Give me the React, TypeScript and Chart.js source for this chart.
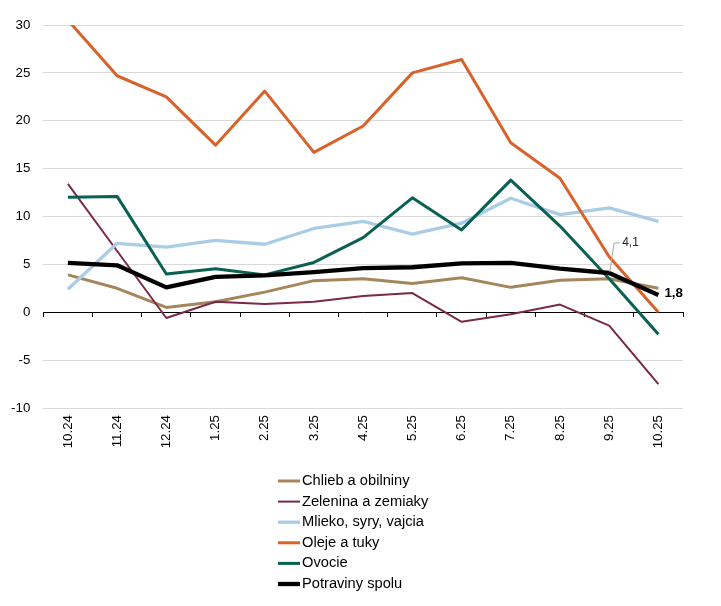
import React, { useEffect, useRef } from "react";
import { Chart, registerables } from "chart.js";

Chart.register(...registerables);

const categories = ["10.24", "11.24", "12.24", "1.25", "2.25", "3.25", "4.25", "5.25", "6.25", "7.25", "8.25", "9.25", "10.25"];

const chlieb = [3.9, 2.5, 0.5, 1.1, 2.1, 3.3, 3.5, 3.0, 3.6, 2.6, 3.35, 3.5, 2.5];
const zelenina = [13.4, 6.4, -0.6, 1.1, 0.85, 1.1, 1.7, 2.0, -1.0, -0.2, 0.8, -1.4, -7.5];
const mlieko = [2.4, 7.2, 6.8, 7.5, 7.1, 8.75, 9.5, 8.15, 9.3, 11.9, 10.2, 10.9, 9.5];
const oleje = [30.5, 24.7, 22.5, 17.45, 23.1, 16.7, 19.45, 25.0, 26.4, 17.7, 14.0, 5.8, 0.0];
const ovocie = [12.0, 12.1, 4.0, 4.55, 3.9, 5.2, 7.8, 11.95, 8.6, 13.8, 9.0, 3.5, -2.3];
const potraviny = [5.15, 4.9, 2.6, 3.7, 3.85, 4.2, 4.6, 4.7, 5.1, 5.15, 4.55, 4.1, 1.8];

const seriesNames = ["Chlieb a obilniny", "Zelenina a zemiaky", "Mlieko, syry, vajcia", "Oleje a tuky", "Ovocie", "Potraviny spolu"];
const yTicks = { min: -10, max: 30, step: 5 };

const FONT = '"Liberation Sans", Arial, sans-serif';

const fmt = (v: number) => v.toFixed(1).replace(".", ",");

const notesPlugin = {
  id: "notes",
  afterDatasetsDraw(chart: any) {
    const ctx = chart.ctx;
    const meta = chart.getDatasetMeta(5);
    const p1 = meta.data[11];
    const p2 = meta.data[12];
    ctx.save();
    ctx.strokeStyle = "#a6a6a6";
    ctx.lineWidth = 1;
    ctx.beginPath();
    ctx.moveTo(p1.x + 0.6, p1.y - 1);
    ctx.lineTo(p1.x + 4.9, p1.y - 30);
    ctx.lineTo(p1.x + 10.6, p1.y - 30);
    ctx.stroke();
    ctx.textAlign = "left";
    ctx.textBaseline = "middle";
    ctx.fillStyle = "#262626";
    ctx.font = `12px ${FONT}`;
    ctx.fillText(fmt(potraviny[11]), p1.x + 13, p1.y - 30);
    ctx.fillStyle = "#000";
    ctx.font = `bold 13.33px ${FONT}`;
    ctx.fillText(fmt(potraviny[12]), p2.x + 6, p2.y - 1.5);
    ctx.restore();
  },
};

const legendPlugin = {
  id: "colLegend",
  afterDraw(chart: any) {
    const ctx = chart.ctx;
    const x0 = chart.width / 2 - 82.5;
    const y0 = chart.chartArea.bottom + 73;
    ctx.save();
    ctx.font = `14.67px ${FONT}`;
    ctx.textAlign = "left";
    ctx.textBaseline = "middle";
    chart.data.datasets.forEach((ds: any, i: number) => {
      const y = y0 + i * 20.6;
      ctx.strokeStyle = ds.borderColor;
      ctx.lineWidth = ds.borderWidth;
      ctx.lineCap = "butt";
      ctx.beginPath();
      ctx.moveTo(x0, y);
      ctx.lineTo(x0 + 22, y);
      ctx.stroke();
      ctx.fillStyle = "#000";
      ctx.fillText(ds.label, x0 + 24, y);
    });
    ctx.restore();
  },
};

export default function App() {
  const ref = useRef<HTMLCanvasElement>(null);

  useEffect(() => {
    if (!ref.current) return;
    const mk = (label: string, data: number[], color: string, width: number, order: number) => ({
      label,
      data,
      borderColor: color,
      backgroundColor: color,
      borderWidth: width,
      pointRadius: 0,
      pointHoverRadius: 0,
      tension: 0,
      fill: false,
      order,
      borderJoinStyle: "round" as const,
    });
    const chart = new Chart(ref.current, {
      type: "line",
      data: {
        labels: categories,
        datasets: [
          mk(seriesNames[0], chlieb, "#a5855c", 3, 6),
          mk(seriesNames[1], zelenina, "#7a2a48", 2, 5),
          mk(seriesNames[2], mlieko, "#a9cde6", 3.3, 4),
          mk(seriesNames[3], oleje, "#d9622b", 3, 3),
          mk(seriesNames[4], ovocie, "#0a6152", 3, 2),
          mk(seriesNames[5], potraviny, "#000000", 4.3, 1),
        ],
      },
      options: {
        animation: false,
        responsive: true,
        maintainAspectRatio: false,
        events: [],
        layout: { padding: { top: 17, right: 30, left: 0, bottom: 120 } },
        plugins: {
          legend: { display: false },
          tooltip: { enabled: false },
        },
        scales: {
          x: {
            type: "category",
            offset: true,
            grid: { display: false, drawTicks: false },
            border: { display: false },
            ticks: {
              autoSkip: false,
              minRotation: 90,
              maxRotation: 90,
              padding: 7,
              color: "#000",
              font: { family: FONT, size: 13.33 },
            },
            afterFit: (s: any) => {
              s.height = 70;
            },
          },
          x2: {
            type: "category",
            labels: categories,
            position: { y: 0 },
            offset: true,
            grid: { offset: true, drawOnChartArea: false, drawTicks: true, tickLength: 4, color: "#000", lineWidth: 1 },
            border: { display: true, color: "#000", width: 1 },
            ticks: { display: false },
          },
          y: {
            min: yTicks.min,
            max: yTicks.max,
            ticks: {
              stepSize: yTicks.step,
              padding: 13,
              color: "#000",
              font: { family: FONT, size: 13.33 },
            },
            grid: {
              drawTicks: false,
              color: (c: any) => (c.tick && c.tick.value === 0 ? "rgba(0,0,0,0)" : "#d9d9d9"),
              lineWidth: 1,
            },
            border: { display: false },
            afterFit: (s: any) => {
              s.width = 35.3;
              s.paddingTop = 0;
              s.paddingBottom = 0;
            },
          },
        },
      } as any,
      plugins: [notesPlugin, legendPlugin],
    });
    return () => chart.destroy();
  }, []);

  return (
    <div style={{ position: "relative", width: 705, height: 590 }}>
      <canvas ref={ref} />
    </div>
  );
}
